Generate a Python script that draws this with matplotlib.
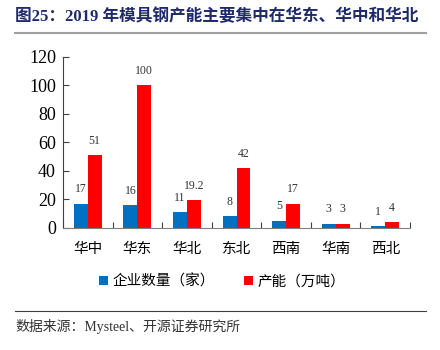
import matplotlib
matplotlib.use("Agg")
import matplotlib.pyplot as plt
import numpy as np
from matplotlib.lines import Line2D

# data
regions = ['华中', '华东', '华北', '东北', '西南', '华南', '西北']
companies = [17, 16, 11, 8, 5, 3, 1]
capacity = [51, 100, 19.2, 42, 17, 3, 4]
cap_labels = ['51', '100', '19.2', '42', '17', '3', '4']

serif_cjk = ['Liberation Serif', 'Noto Sans CJK SC']
plt.rcParams['font.family'] = serif_cjk

fig = plt.figure(figsize=(4.4, 3.5), dpi=100)
ax = fig.add_axes([0.143, 0.349, 0.789, 0.489])

x = np.arange(len(regions))
w = 0.28
b1 = ax.bar(x - w / 2, companies, width=w, color='#0070C0', label='企业数量（家）')
b2 = ax.bar(x + w / 2, capacity, width=w, color='#FF0000', label='产能（万吨）')

for xi, v in zip(x, companies):
    ax.annotate(str(v), (xi - w / 2, v), xytext=(0, 6), textcoords='offset points',
                ha='center', va='bottom', fontsize=8.5, color='#333333')
for xi, v, s in zip(x, capacity, cap_labels):
    ax.annotate(s, (xi + w / 2, v), xytext=(0, 6), textcoords='offset points',
                ha='center', va='bottom', fontsize=8.5, color='#333333')

ax.set_xlim(-0.5, len(regions) - 0.5)
ax.set_ylim(0, 120)
ax.set_yticks(range(0, 121, 20))
ax.tick_params(axis='y', direction='in', length=4, labelsize=13, color='#404040', pad=5)
ax.set_xticks(np.arange(len(regions) + 1) - 0.5, minor=False)
ax.set_xticklabels([])
ax.tick_params(axis='x', direction='in', length=4, color='#404040')
for xi, r in zip(x, regions):
    ax.text(xi, -10, r, ha='center', va='top', fontsize=10.5,
            family='Noto Sans CJK SC', transform=ax.transData, clip_on=False)

for s in ['top', 'right']:
    ax.spines[s].set_visible(False)
ax.spines['left'].set_color('#404040')
ax.spines['bottom'].set_color('#808080')

leg = fig.legend(handles=[b1, b2], loc='center', bbox_to_anchor=(0.505, 0.195), ncol=2,
                 frameon=False, prop={'family': 'Noto Sans CJK SC', 'size': 10.5},
                 handlelength=0.6, handleheight=0.6, handletextpad=0.3, columnspacing=2.0)

# title and source
fig.text(0.034, 0.952, '图25：2019 年模具钢产能主要集中在华东、华中和华北', fontsize=12,
         fontweight='bold', color='#1F2A6B', ha='left', va='center')
fig.add_artist(Line2D([0.034, 0.968], [0.905, 0.905], color='#A0A0A0', lw=1.5))
fig.add_artist(Line2D([0.034, 0.968], [0.111, 0.111], color='#404040', lw=0.8))
fig.text(0.034, 0.068, '数据来源：Mysteel、开源证券研究所', fontsize=10,
         color='#333333', ha='left', va='center')

fig.savefig('out.png', dpi=100)
